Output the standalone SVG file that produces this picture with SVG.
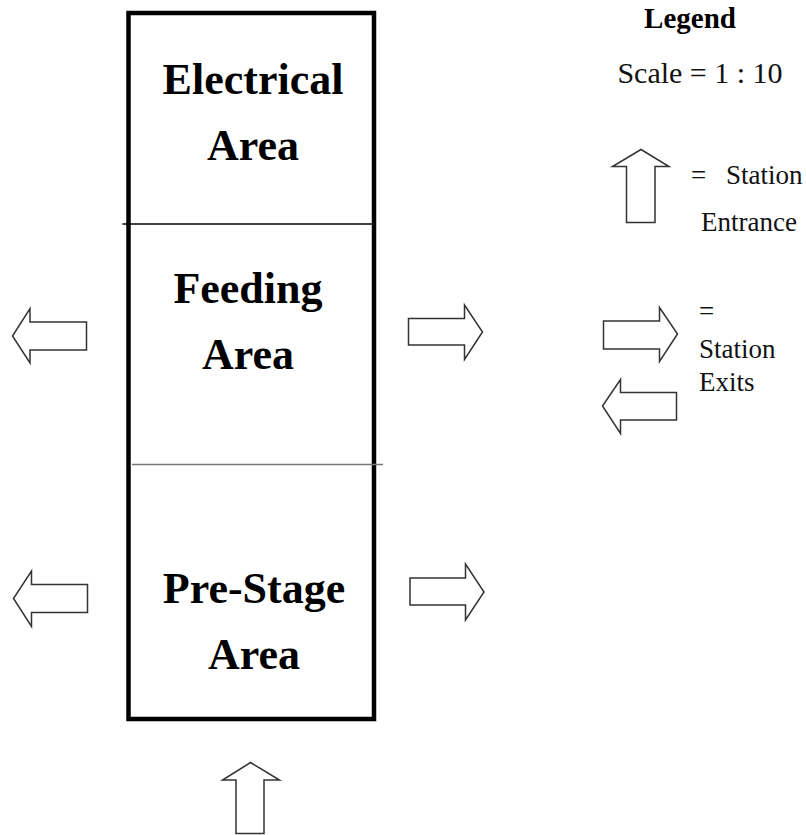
<svg xmlns="http://www.w3.org/2000/svg" width="806" height="835" viewBox="0 0 806 835">
<defs>
<style>
.arrow{fill:#fff;stroke:#333;stroke-width:1.5;stroke-linejoin:miter}
.area{font-family:"Liberation Serif","Times New Roman",serif;font-weight:bold;font-size:44px;fill:#000;text-anchor:middle}
.leg{font-family:"Liberation Serif","Times New Roman",serif;font-size:27px;fill:#111}
</style>
</defs>
<rect width="806" height="835" fill="#fff"/>
<g id="station">
<rect x="128.5" y="13" width="245.5" height="706" fill="none" stroke="#000" stroke-width="4.5"/>
<line x1="122.5" y1="224" x2="372" y2="224" stroke="#000" stroke-width="1.3"/>
<line x1="132" y1="464.5" x2="383" y2="464.5" stroke="#777" stroke-width="1.6"/>
</g>
<g id="electrical">
<text class="area" x="253" y="94">Electrical</text>
<text class="area" x="253" y="160">Area</text>
</g>
<g id="feeding">
<text class="area" x="248" y="303">Feeding</text>
<text class="area" x="248" y="369">Area</text>
</g>
<g id="prestage">
<text class="area" x="254" y="603">Pre-Stage</text>
<text class="area" x="254" y="669">Area</text>
</g>
<g id="connectors">
<polygon class="arrow" points="86.5,322 30,322 30,308.5 12.5,336 30,363 30,350 86.5,350"/>
<polygon class="arrow" points="408.5,318.5 464.5,318.5 464.5,305 482.5,332 464.5,359.5 464.5,345 408.5,345"/>
<polygon class="arrow" points="87.5,584.5 31.5,584.5 31.5,571 13.5,598.5 31.5,626.5 31.5,612.5 87.5,612.5"/>
<polygon class="arrow" points="410,578 465.5,578 465.5,564 484,592 465.5,620 465.5,605 410,605"/>
<polygon class="arrow" points="236,833.5 236,780 222.5,780 250.5,762.5 279.5,780 264,780 264,833.5"/>
</g>
<g id="legend">
<text x="690" y="28" style="font-family:'Liberation Serif','Times New Roman',serif;font-weight:bold;font-size:29px;text-anchor:middle">Legend</text>
<text x="700" y="83" style="font-family:'Liberation Serif','Times New Roman',serif;font-size:30px;text-anchor:middle;fill:#111">Scale = 1 : 10</text>
<polygon class="arrow" points="626.5,222.5 626.5,166.5 612.5,166.5 641,149.5 669,166.5 655,166.5 655,222.5"/>
<text class="leg" x="691" y="184">=</text>
<text class="leg" x="726" y="184">Station</text>
<text class="leg" x="701" y="231">Entrance</text>
<polygon class="arrow" points="603.5,321 659.5,321 659.5,307.5 677.5,334 659.5,361.5 659.5,349 603.5,349"/>
<polygon class="arrow" points="676.5,392.5 620.5,392.5 620.5,379.5 602.5,406 620.5,433.5 620.5,420 676.5,420"/>
<text class="leg" x="699" y="320">=</text>
<text class="leg" x="699" y="358">Station</text>
<text class="leg" x="699" y="391">Exits</text>
</g>
</svg>
